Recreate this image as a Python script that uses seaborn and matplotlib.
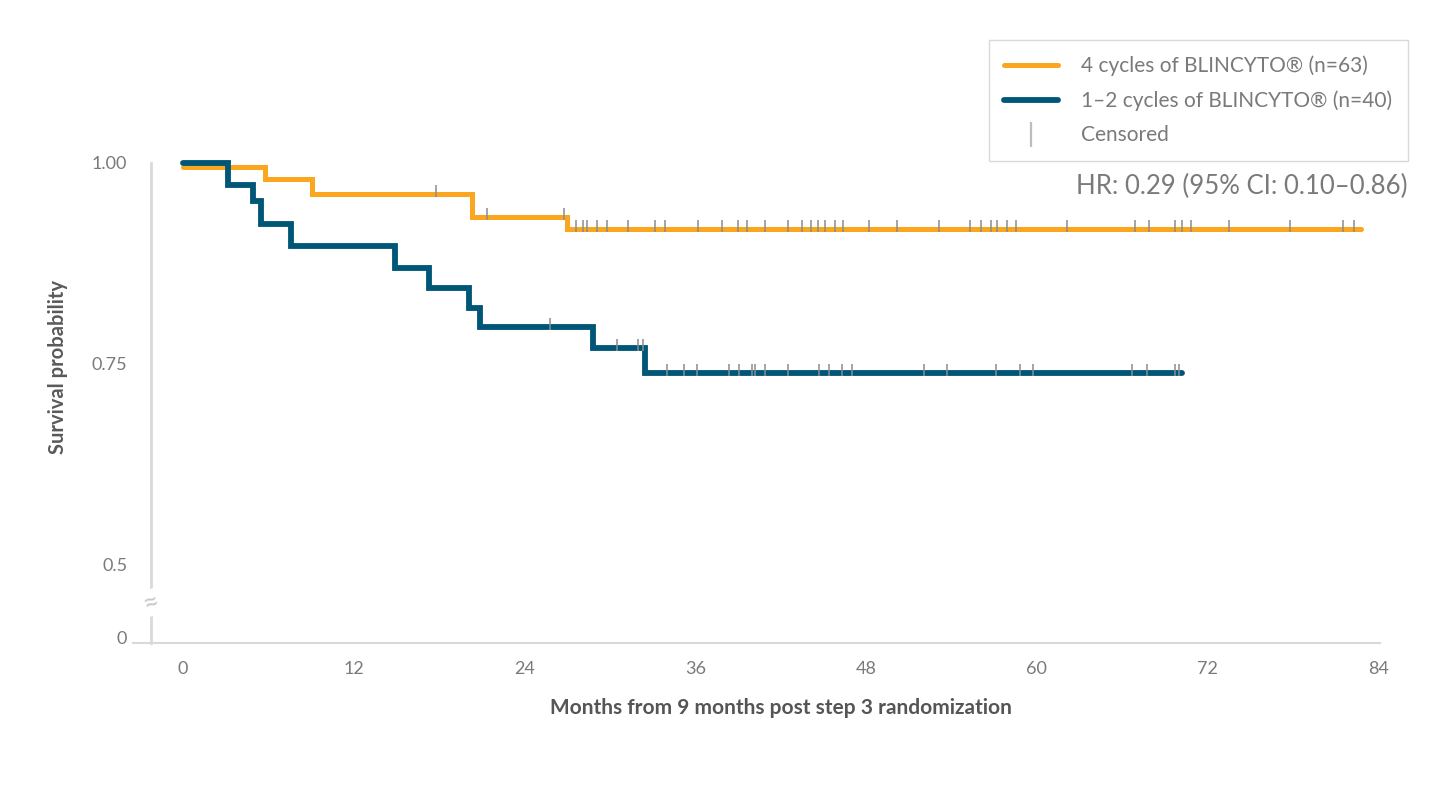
import numpy as np
import pandas as pd
import matplotlib
matplotlib.use("Agg")
import matplotlib.pyplot as plt
import seaborn as sns
from matplotlib.lines import Line2D

# Courbes de Kaplan-Meier (mois, probabilite de survie)
group_labels = ["4 cycles of BLINCYTO® (n=63)", "1–2 cycles of BLINCYTO® (n=40)"]

orange_time = [0, 5.8, 9.1, 20.3, 27.0, 82.8]
orange_surv = [0.995, 0.980, 0.961, 0.932, 0.917, 0.917]
orange_censor = [17.8, 21.4, 26.8, 27.65, 28.1, 28.4, 29.1, 29.8, 31.3, 33.2, 33.9,
                 36.2, 37.9, 39.0, 39.6, 40.9, 42.5, 43.5, 44.1, 44.6, 45.1, 45.8,
                 46.4, 48.2, 50.2, 53.1, 55.3, 56.1, 56.8, 57.2, 57.9, 58.5, 62.1,
                 66.9, 67.9, 69.7, 70.2, 70.8, 73.5, 77.8, 81.5, 82.3]

blue_time = [0, 3.2, 4.9, 5.5, 7.6, 14.9, 17.3, 20.1, 20.9, 28.8, 32.5, 70.2]
blue_surv = [1.0, 0.972, 0.953, 0.924, 0.896, 0.869, 0.844, 0.819, 0.796, 0.769, 0.738, 0.738]
blue_censor = [25.8, 30.5, 32.0, 32.3, 34.0, 35.2, 36.1, 38.4, 39.1, 40.0, 40.2, 40.9,
               42.5, 44.7, 45.4, 46.3, 47.0, 52.1, 53.7, 57.1, 58.8, 59.7, 66.7,
               67.7, 69.7, 70.0]

y_ticks = [0.5, 0.75, 1.0]
y_tick_labels = ["0.5", "0.75", "1.00"]
x_ticks = [0, 12, 24, 36, 48, 60, 72, 84]

hr_text = "HR: 0.29 (95% CI: 0.10–0.86)"

ORANGE = "#FAA61E"
BLUE = "#005676"
GREY = "#8C8C8C"
AXIS_GREY = "#D9D9D9"
TEXT_GREY = "#7A7A7A"

ZERO_POS = 0.409  # axe coupe : le 0 est place juste sous 0.5

sns.set_style("white")
plt.rcParams["font.family"] = ["Lato", "DejaVu Sans"]

df = pd.concat([
    pd.DataFrame({"month": orange_time, "surv": orange_surv, "group": group_labels[0]}),
    pd.DataFrame({"month": blue_time, "surv": blue_surv, "group": group_labels[1]}),
])

fig = plt.figure(figsize=(14.4, 8.01), dpi=100)
ax = fig.add_axes([133 / 1440, 158 / 801, 1247 / 1440, 485 / 801])

sns.lineplot(data=df[df.group == group_labels[0]], x="month", y="surv", color=ORANGE,
             drawstyle="steps-post", linewidth=3.6, estimator=None, ax=ax, legend=False,
             solid_joinstyle="miter", zorder=3)
sns.lineplot(data=df[df.group == group_labels[1]], x="month", y="surv", color=BLUE,
             drawstyle="steps-post", linewidth=4.2, estimator=None, ax=ax, legend=False,
             solid_joinstyle="miter", zorder=3)


def step_value(times, surv, t):
    idx = np.searchsorted(times, t, side="right") - 1
    return np.asarray(surv)[idx]


# Marques de censure (petits traits gris, surtout au-dessus de la courbe)
tick_marker = [(0, -0.29), (0, 1)]
for times, surv, cens in [(orange_time, orange_surv, orange_censor),
                          (blue_time, blue_surv, blue_censor)]:
    ax.plot(cens, step_value(times, surv, cens), linestyle="none", marker=tick_marker,
            markersize=12.9, markeredgewidth=1.1, color=GREY, zorder=4)

# Axes
ax.set_xlim(-3.5, 84.1)
ax.set_ylim(0.402, 1.006)
for s in ["top", "right"]:
    ax.spines[s].set_visible(False)
ax.spines["left"].set_position(("data", -2.25))
ax.spines["left"].set_bounds(0.402, 1.0)
ax.spines["left"].set_color(AXIS_GREY)
ax.spines["left"].set_linewidth(2)
ax.spines["bottom"].set_color(AXIS_GREY)
ax.spines["bottom"].set_linewidth(1.5)

ax.set_xticks(x_ticks)
ax.set_xticks(np.arange(0, 85, 3), minor=True)
ax.set_yticks([ZERO_POS] + y_ticks)
ax.set_yticklabels(["0"] + y_tick_labels)
ax.tick_params(axis="x", which="both", length=5, width=1, color=AXIS_GREY,
               labelsize=13, labelcolor=TEXT_GREY, pad=8)
ax.tick_params(axis="y", length=10, width=1.2, color=AXIS_GREY,
               labelsize=13, labelcolor=TEXT_GREY, pad=7)

ax.set_xlabel("Months from 9 months post step 3 randomization", fontsize=15,
              fontweight="bold", color="#555555")
ax.xaxis.set_label_coords(0.5197, -0.113)
ax.set_ylabel("Survival probability", fontsize=14.5, fontweight="bold", color="#5A5A5A")
ax.yaxis.set_label_coords(-0.052, 0.57)

# Symbole de coupure sur l'axe des y
ax.text(0.0144, 0.083, "≈", transform=ax.transAxes, rotation=20, ha="center",
        va="center", fontsize=20, color="#C8C8C8", zorder=5,
        bbox=dict(boxstyle="square,pad=0.0", fc="white", ec="none"))

# Legende
handles = [
    Line2D([], [], color=ORANGE, linewidth=3.6),
    Line2D([], [], color=BLUE, linewidth=4.2),
    Line2D([], [], color="#BDBDBD", linestyle="none", marker="|", markersize=18,
           markeredgewidth=1.6),
]
leg = fig.legend(handles, group_labels + ["Censored"], loc="upper right",
                 bbox_to_anchor=(1408 / 1440, 1 - 40 / 801), frameon=True,
                 fancybox=False, edgecolor="#D0D0D0", fontsize=15,
                 handlelength=2.6, handletextpad=1.1, labelspacing=0.68,
                 borderpad=0.75, borderaxespad=0)
leg.get_frame().set_linewidth(1)
for t in leg.get_texts():
    t.set_color(TEXT_GREY)

fig.text(1408 / 1440, 1 - 186 / 801, hr_text, ha="right", va="center", fontsize=18.5,
         color=TEXT_GREY)

fig.savefig("out.png", dpi=100)
